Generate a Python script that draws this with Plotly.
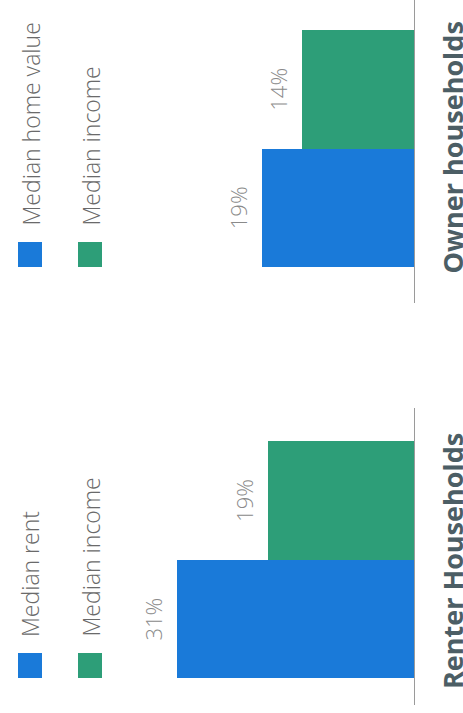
import plotly.graph_objects as go

# ---------------- data ----------------
owner_categories = ["Median home value", "Median income"]
owner_values = [19, 14]
renter_categories = ["Median rent", "Median income"]
renter_values = [31, 19]
panel_titles = ["Owner households", "Renter Households"]
series_colors = ["#1a7ad9", "#2d9e78"]

# ---------------- layout helpers ----------------
W, H = 463, 713
def px(x):
    return x / W
def py(y):
    return 1 - y / H

FONT = "Open Sans"
LABEL_COLOR = "#8a8a8a"
LEGEND_COLOR = "#6a6a6a"
TITLE_COLOR = "#4c5e65"
AXIS_COLOR = "#9a9a9a"

panels = [
    dict(cats=owner_categories, vals=owner_values, xa="x", ya="y",
         xmax=51.75, ydom=(0, 303), yr=[-0.80, 1.757], leg_bottom=267, centre=147.5,
         title=panel_titles[0]),
    dict(cats=renter_categories, vals=renter_values, xa="x2", ya="y2",
         xmax=54.05, ydom=(408, 705), yr=[-0.726, 1.78], leg_bottom=678, centre=561,
         title=panel_titles[1]),
]

fig = go.Figure()
annotations = []
shapes = []
legend_x = [18, 78]
sq = 25

for k, p in enumerate(panels):
    idx = list(range(len(p["cats"])))
    fig.add_trace(go.Bar(
        x=p["vals"], y=idx, orientation="h",
        marker=dict(color=series_colors, line=dict(width=0)),
        width=[1] * len(idx), xaxis=p["xa"], yaxis=p["ya"],
        showlegend=False, hoverinfo="skip",
    ))
    sfx = "" if k == 0 else "2"
    fig.layout["xaxis" + sfx] = dict(
        domain=[0, px(414)], range=[p["xmax"], 0], visible=False,
        anchor=p["ya"], fixedrange=True,
    )
    fig.layout["yaxis" + sfx] = dict(
        domain=[py(p["ydom"][1]), py(p["ydom"][0])], range=p["yr"],
        side="right", anchor=p["xa"], showline=True, linecolor=AXIS_COLOR,
        linewidth=1, showticklabels=False, ticks="", showgrid=False,
        zeroline=False, fixedrange=True,
    )
    # value labels
    for i, v in zip(idx, p["vals"]):
        annotations.append(dict(
            x=v, y=i, xref=p["xa"], yref=p["ya"], text=f"{v}%",
            textangle=-90, showarrow=False, xanchor="center", yanchor="middle",
            xshift=-24, font=dict(family=FONT, size=22, color=LABEL_COLOR, weight=300),
        ))
    # legend
    for i, cat in enumerate(p["cats"]):
        x0 = legend_x[i]
        yb = p["leg_bottom"]
        shapes.append(dict(
            type="rect", xref="paper", yref="paper",
            x0=px(x0), x1=px(x0 + 24), y0=py(yb), y1=py(yb - sq),
            fillcolor=series_colors[i], line=dict(width=0),
        ))
        annotations.append(dict(
            x=px(x0 + 12), y=py(yb - sq - 14), xref="paper", yref="paper",
            text=cat, textangle=-90, showarrow=False,
            xanchor="center", yanchor="bottom",
            font=dict(family=FONT, size=23, color=LEGEND_COLOR, weight=300),
        ))
    # panel title
    annotations.append(dict(
        x=px(452), y=py(p["centre"]), xref="paper", yref="paper",
        text=f"<b>{p['title']}</b>", textangle=-90, showarrow=False,
        xanchor="center", yanchor="middle",
        font=dict(family=FONT, size=27, color=TITLE_COLOR),
    ))

fig.update_layout(
    width=W, height=H, margin=dict(l=0, r=0, t=0, b=0),
    paper_bgcolor="white", plot_bgcolor="white",
    bargap=0, annotations=annotations, shapes=shapes,
    showlegend=False,
)

fig.write_html(
    "out.html",
    config={"displayModeBar": False},
    post_script="document.body.style.margin='0';document.body.style.overflow='hidden';",
)
